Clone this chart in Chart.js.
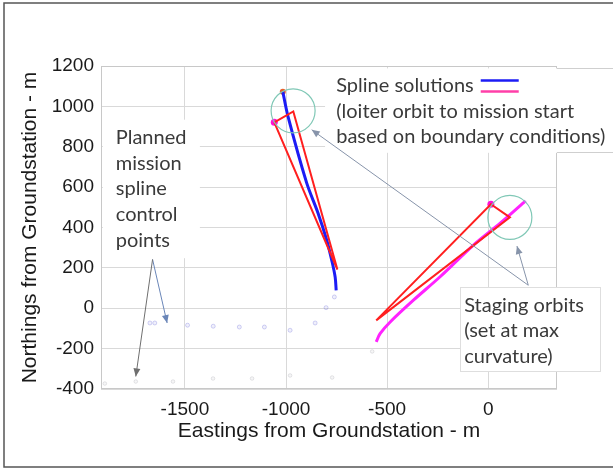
<!DOCTYPE html>
<html>
<head>
<meta charset="utf-8">
<script src="https://cdn.jsdelivr.net/npm/chart.js@4.4.1/dist/chart.umd.min.js"></script>
<style>
  html, body { margin: 0; padding: 0; background: #fff; }
  canvas { display: block; }
</style>
</head>
<body>
<canvas id="chart" width="613" height="474"></canvas>
<script>
const xTicks = [-1500, -1000, -500, 0];
const xRange = [-1915, 340];
const yRange = [-400, 1200];

// loiter orbit -> mission start
const loiterSplineX = [-1016, -990, -898, -842, -799, -772, -757, -752];
const loiterSplineY = [1073, 949, 621, 472, 338, 229, 154, 89];
const loiterBoundsX = [-1058, -964, -746, -1058];
const loiterBoundsY = [921, 975, 192, 921];

// staging orbit spline
const stagingSplineX = [-554, -535, -485, -370, -238, -73, 59, 185];
const stagingSplineY = [-167, -126, -68, 40, 156, 313, 421, 532];
const stagingBoundsX = [-554, 13, 107, -554];
const stagingBoundsY = [-60, 515, 450, -60];

const orbitCentreX = [-965, 107];
const orbitCentreY = [978, 450];

const entryX = [-1058, 13];
const entryY = [921, 515];
const exitX = [-1016];
const exitY = [1073];

// planned mission spline control points
const plannedX = [-1673, -1649, -1487, -1360, -1231, -1107, -980, -856, -802, -761];
const plannedY = [-73, -73, -84, -89, -93, -93, -109, -73, 3, 56];
const plannedLowX = [-1896, -1743, -1559, -1361, -1168, -980, -772, -574];
const plannedLowY = [-373, -363, -363, -348, -348, -333, -343, -214];

const noteBoxes = [
  { x0: -1906, x1: -1426, y0: 934, y1: 248 },
  { x0: -807, x1: 625, y0: 1188, y1: 770, edgeOutside: true },
  { x0: -139, x1: 554, y0: 104, y1: -313, border: '#dedede' }
];

const notes = [
  { x: -1842, y: 845, lines: ['Planned', 'mission', 'spline', 'control', 'points'] },
  { x: -752, y: 1103, lines: ['Spline solutions', '(loiter orbit to mission start', 'based on boundary conditions)'] },
  { x: -119, y: 15, lines: ['Staging orbits', '(set at max', 'curvature)'] }
];

const arrows = [
  { from: [-1660, 242], to: [-1588, -73], color: '#6a86b8' },
  { from: [-1660, 242], to: [-1743, -338], color: '#6f6f6f' },
  { from: [198, 114], to: [-873, 884], color: '#8794aa' },
  { from: [198, 114], to: [142, 308], color: '#8794aa' }
];

function toPoints(xs, ys) {
  return xs.map((x, i) => ({ x: x, y: ys[i] }));
}

function drawArrow(ctx, x0, y0, x1, y1, color) {
  const ang = Math.atan2(y1 - y0, x1 - x0);
  ctx.strokeStyle = color;
  ctx.fillStyle = color;
  ctx.lineWidth = 1;
  ctx.beginPath();
  ctx.moveTo(x0, y0);
  ctx.lineTo(x1, y1);
  ctx.stroke();
  ctx.beginPath();
  ctx.moveTo(x1, y1);
  ctx.lineTo(x1 - 8 * Math.cos(ang) + 3.5 * Math.sin(ang), y1 - 8 * Math.sin(ang) - 3.5 * Math.cos(ang));
  ctx.lineTo(x1 - 8 * Math.cos(ang) - 3.5 * Math.sin(ang), y1 - 8 * Math.sin(ang) + 3.5 * Math.cos(ang));
  ctx.closePath();
  ctx.fill();
}

const overlay = {
  id: 'overlay',
  beforeDatasetsDraw(chart) {
    const { ctx, chartArea: a, scales: { x, y } } = chart;
    ctx.save();
    ctx.strokeStyle = '#c8c8c8';
    ctx.lineWidth = 1;
    ctx.strokeRect(a.left + 0.5, a.top + 0.5, a.width - 1, a.height - 1);
    noteBoxes.forEach(b => {
      const l = x.getPixelForValue(b.x0), r = x.getPixelForValue(b.x1);
      const t = y.getPixelForValue(b.y0), bt = y.getPixelForValue(b.y1);
      ctx.fillStyle = '#fff';
      ctx.fillRect(l, t, r - l, bt - t);
      if (b.border) {
        ctx.strokeStyle = b.border;
        ctx.strokeRect(Math.round(l) + 0.5, Math.round(t) + 0.5, Math.round(r - l), Math.round(bt - t));
      }
      if (b.edgeOutside) {
        ctx.save();
        ctx.beginPath();
        ctx.rect(a.right, 0, chart.width - a.right, chart.height);
        ctx.clip();
        ctx.strokeStyle = '#cfcfcf';
        ctx.strokeRect(Math.round(l) + 0.5, Math.round(t) + 0.5, Math.round(r - l), Math.round(bt - t));
        ctx.restore();
      }
    });
    ctx.restore();
  },
  afterDatasetsDraw(chart) {
    const { ctx, scales: { x, y } } = chart;
    ctx.save();
    arrows.forEach(ar => {
      drawArrow(ctx, x.getPixelForValue(ar.from[0]), y.getPixelForValue(ar.from[1]),
        x.getPixelForValue(ar.to[0]), y.getPixelForValue(ar.to[1]), ar.color);
    });
    ctx.font = '20px Lato';
    ctx.fillStyle = '#3a3a3a';
    ctx.textBaseline = 'middle';
    ctx.textAlign = 'left';
    notes.forEach(n => {
      const px = x.getPixelForValue(n.x), py = y.getPixelForValue(n.y);
      n.lines.forEach((s, i) => ctx.fillText(s, px, py + i * 25.6));
    });
    // legend swatches after "Spline solutions"
    const n = notes[1];
    const sx = x.getPixelForValue(n.x) + ctx.measureText(n.lines[0]).width + 7;
    const sy = y.getPixelForValue(n.y);
    ctx.lineWidth = 2.5;
    ctx.strokeStyle = '#1c1cf5';
    ctx.beginPath(); ctx.moveTo(sx, sy - 5); ctx.lineTo(sx + 38, sy - 5); ctx.stroke();
    ctx.strokeStyle = '#ff3fa8';
    ctx.beginPath(); ctx.moveTo(sx, sy + 6); ctx.lineTo(sx + 38, sy + 6); ctx.stroke();
    // outer frame
    ctx.strokeStyle = '#555';
    ctx.lineWidth = 1.5;
    ctx.beginPath();
    ctx.moveTo(chart.width, 3);
    ctx.lineTo(4, 3);
    ctx.lineTo(4, 467);
    ctx.lineTo(chart.width, 467);
    ctx.stroke();
    ctx.restore();
  }
};

const lineSet = (xs, ys, color, width, tension) => ({
  data: toPoints(xs, ys), showLine: true, borderColor: color, borderWidth: width,
  pointRadius: 0, tension: tension, fill: false
});

const tickFont = { family: 'Liberation Sans', size: 19 };
const titleFont = { family: 'Liberation Sans', size: 21 };

new Chart(document.getElementById('chart'), {
  type: 'scatter',
  data: {
    datasets: [
      { data: toPoints(orbitCentreX, orbitCentreY), pointRadius: 22, borderWidth: 1.2,
        borderColor: '#80c8b6', backgroundColor: 'rgba(0,0,0,0)' },
      { data: toPoints(plannedX, plannedY), pointRadius: 2, borderWidth: 1,
        borderColor: 'rgba(110,110,220,0.3)', backgroundColor: 'rgba(110,110,220,0.1)' },
      { data: toPoints(plannedLowX, plannedLowY), pointRadius: 1.8, borderWidth: 1,
        borderColor: 'rgba(140,140,150,0.22)', backgroundColor: 'rgba(140,140,150,0.08)' },
      lineSet(loiterBoundsX, loiterBoundsY, '#ff1f1f', 2, 0),
      lineSet(stagingBoundsX, stagingBoundsY, '#ff1f1f', 2, 0),
      lineSet(stagingSplineX, stagingSplineY, '#ff22ff', 3, 0.3),
      lineSet(loiterSplineX, loiterSplineY, '#1c1cf5', 3, 0.3),
      { data: toPoints(entryX, entryY), pointRadius: 3.5, borderWidth: 0, backgroundColor: '#ff10d8' },
      { data: toPoints(exitX, exitY), pointRadius: 3, borderWidth: 0, backgroundColor: '#e8602a' }
    ]
  },
  options: {
    responsive: false,
    animation: false,
    devicePixelRatio: 1,
    layout: { padding: { left: 0, top: 66, right: 56, bottom: 0 } },
    plugins: { legend: { display: false }, tooltip: { enabled: false } },
    scales: {
      x: {
        type: 'linear',
        min: xRange[0], max: xRange[1],
        afterBuildTicks: s => { s.ticks = xTicks.map(v => ({ value: v })); },
        afterFit: s => { s.height = 85; },
        grid: { color: '#d9d9d9', drawTicks: false },
        border: { display: false },
        ticks: { padding: 9, color: '#1a1a1a', font: tickFont, callback: v => String(v) },
        title: { display: true, text: 'Eastings from Groundstation - m', color: '#1a1a1a',
          font: titleFont, padding: { top: 0, bottom: 30 } }
      },
      y: {
        type: 'linear',
        min: yRange[0], max: yRange[1],
        ticks: { stepSize: 200, padding: 7, color: '#1a1a1a', font: tickFont, callback: v => String(v) },
        afterFit: s => { s.width = 101; },
        grid: { color: '#d9d9d9', drawTicks: false },
        border: { display: false },
        title: { display: true, text: 'Northings from Groundstation - m', color: '#1a1a1a',
          font: titleFont, padding: { top: 18, bottom: 0 } }
      }
    }
  },
  plugins: [overlay]
});
</script>
</body>
</html>
